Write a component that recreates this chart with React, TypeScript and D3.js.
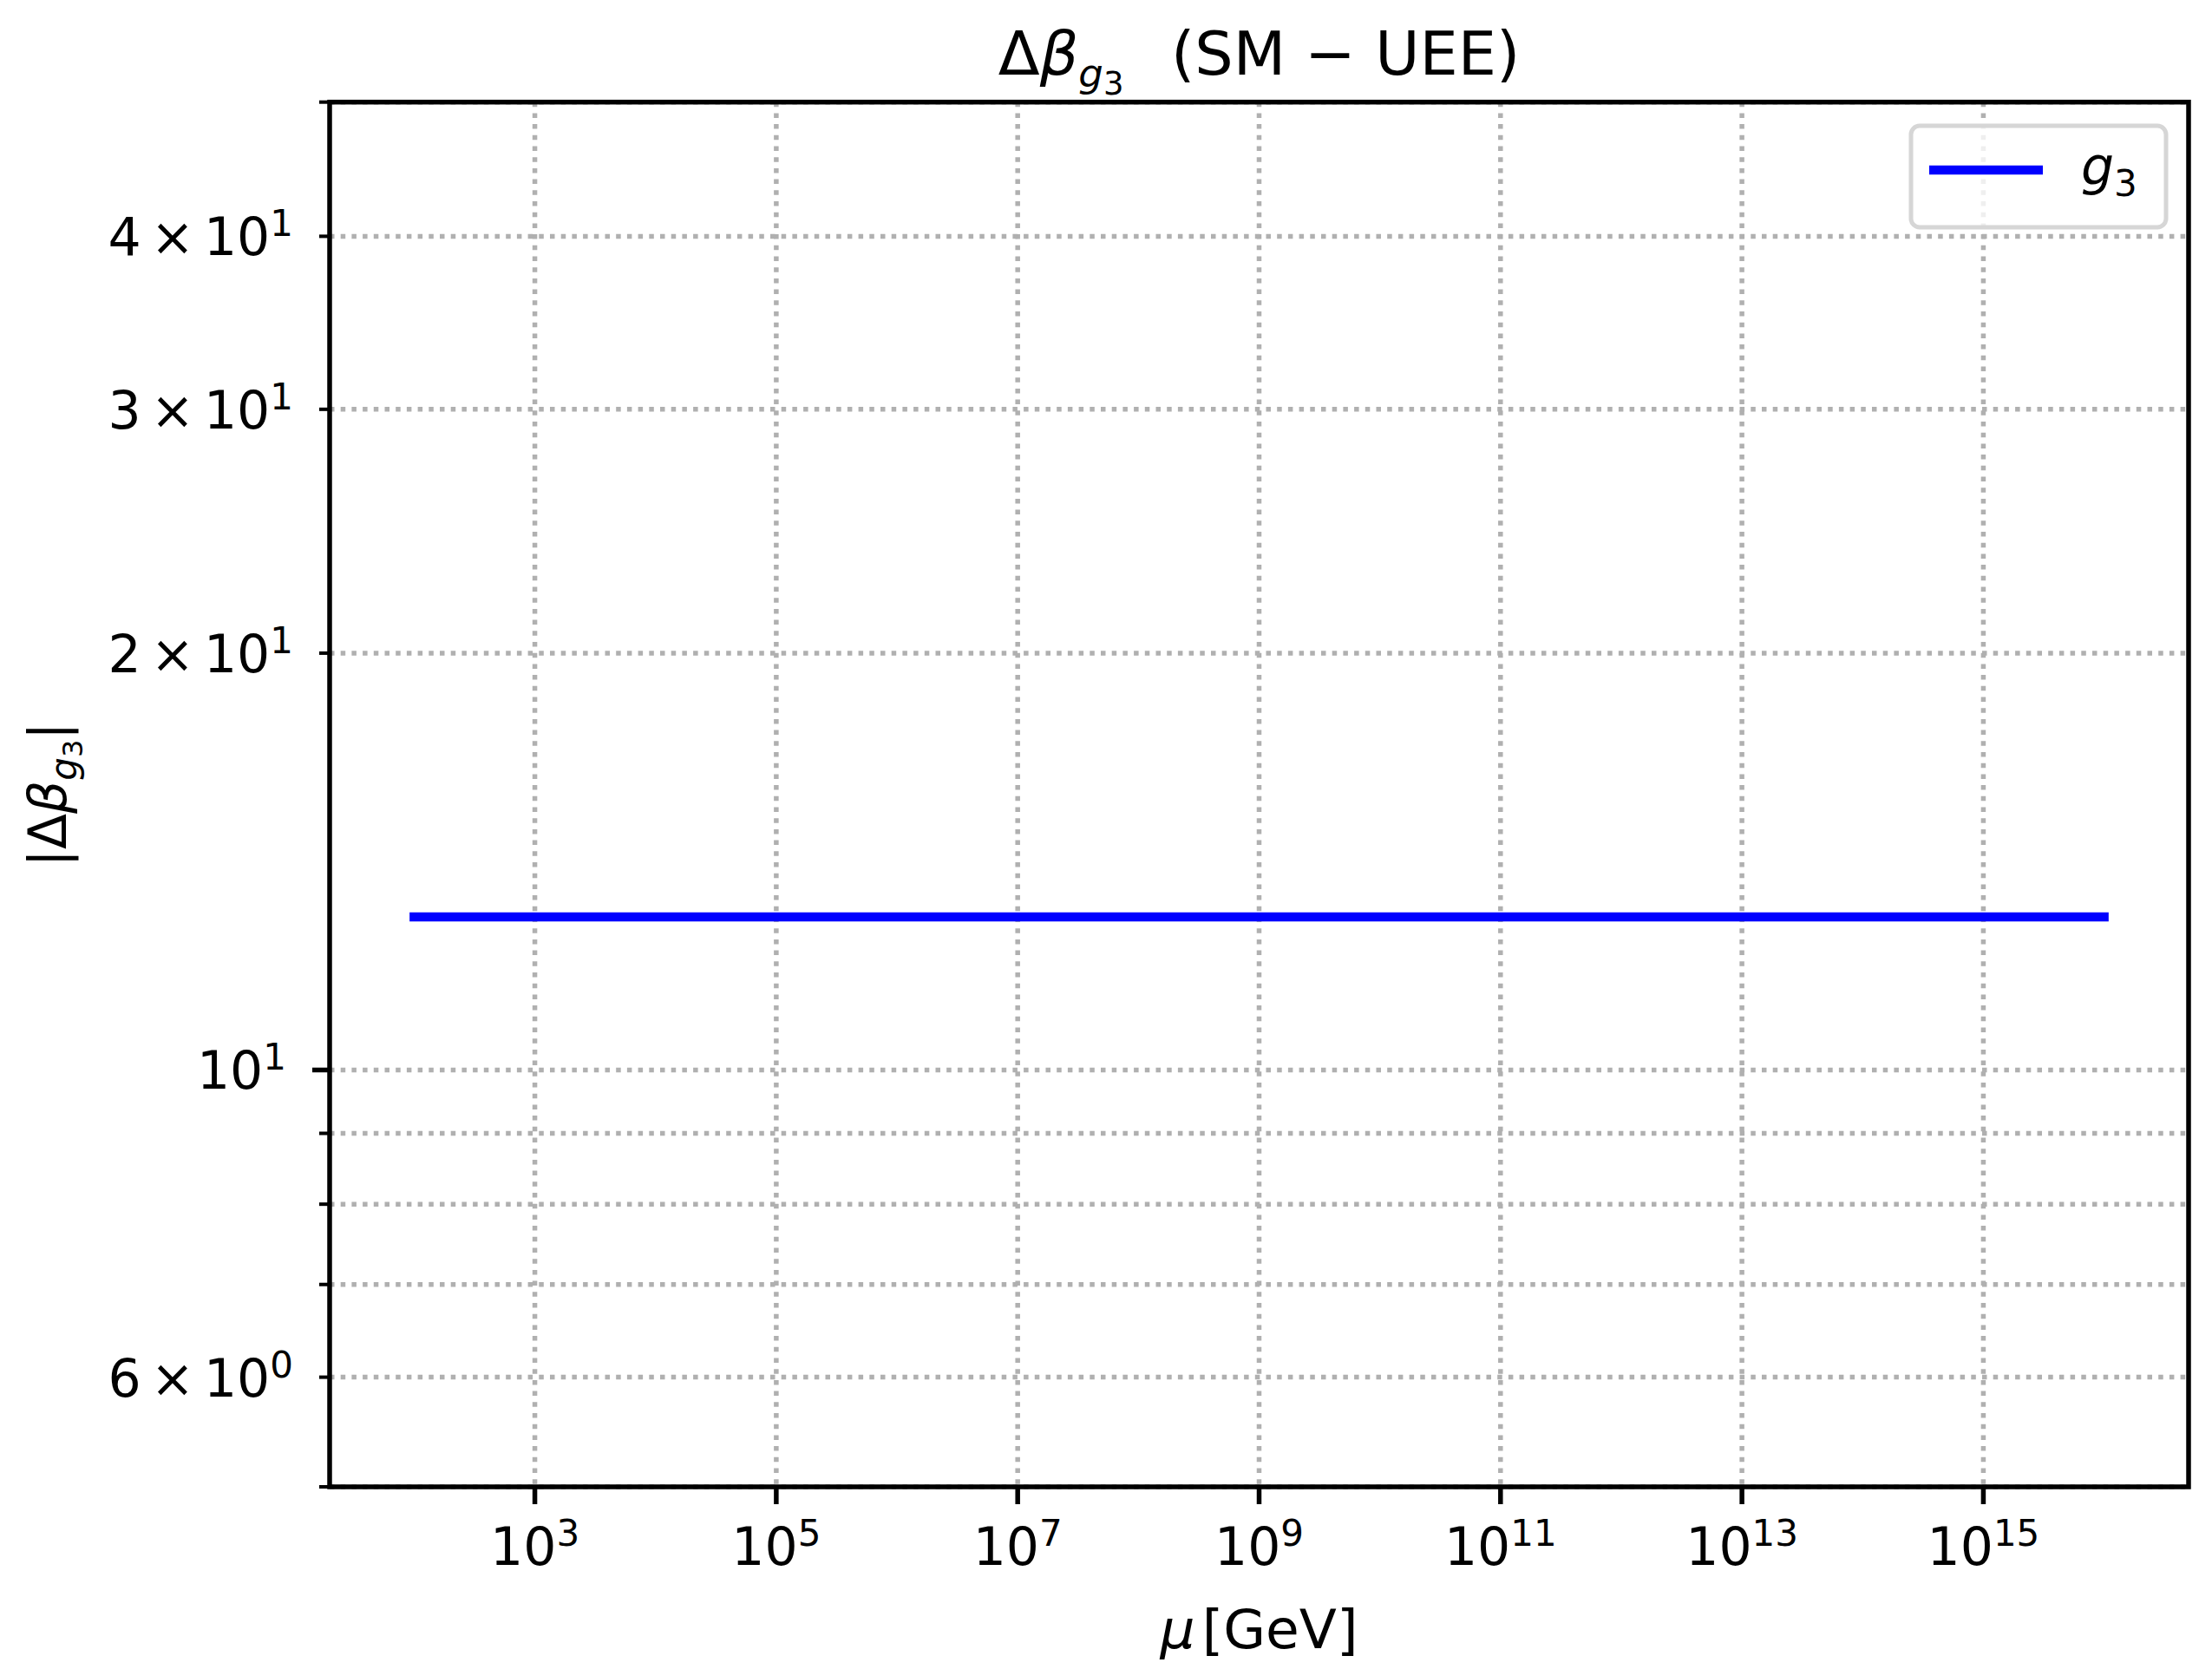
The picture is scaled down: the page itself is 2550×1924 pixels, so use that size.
import React from "react";
import * as d3 from "d3";

// ---- data ----
const MU_VALUES = [1e2, 1e4, 1e6, 1e8, 1e10, 1e12, 1e14, 1e16];
const DBETA_G3 = [12.9, 12.9, 12.9, 12.9, 12.9, 12.9, 12.9, 12.9];

const X_MAJOR_TICKS = [1e3, 1e5, 1e7, 1e9, 1e11, 1e13, 1e15];
const X_TICK_EXPONENTS = ["3", "5", "7", "9", "11", "13", "15"];

const Y_DOMAIN = [5, 50];
const Y_MAJOR_TICKS = [10];
const Y_MINOR_TICKS = [5, 6, 7, 8, 9, 20, 30, 40, 50];
const Y_LABEL_VALUES = [6, 10, 20, 30, 40];
const Y_LABEL_MANTISSAS = ["6", "", "2", "3", "4"];
const Y_LABEL_EXPONENTS = ["0", "1", "1", "1", "1"];

const SERIES_NAME_MAIN = "g";
const SERIES_NAME_SUB = "3";

const FONT = "DejaVu Sans";

export default function App() {
  const W = 2550;
  const H = 1924;
  const L = 380;
  const R = 2523;
  const T = 117.7;
  const B = 1714;

  const lo = Math.log10(d3.min(MU_VALUES) as number);
  const hi = Math.log10(d3.max(MU_VALUES) as number);
  const pad = 0.05 * (hi - lo);
  const x = d3.scaleLog().domain([Math.pow(10, lo - pad), Math.pow(10, hi + pad)]).range([L, R]);
  const y = d3.scaleLog().domain(Y_DOMAIN).range([B, T]);

  const linePath = d3
    .line<number>()
    .x((_, i) => x(MU_VALUES[i]))
    .y((d) => y(d))(DBETA_G3) as string;

  const gridColor = "#b0b0b0";
  const gridW = 5.5;
  const gridDash = "5.5 7.2";
  const majorLen = 20;
  const minorLen = 12;
  const tickFont = 60;
  const supFont = 42;
  const supRaise = 22;

  const yGrid = [...Y_MAJOR_TICKS, ...Y_MINOR_TICKS];

  return (
    <svg
      width={W}
      height={H}
      viewBox={`0 0 ${W} ${H}`}
      style={{ position: "absolute", left: 0, top: 0, background: "#fff" }}
      fontFamily={FONT}
    >
      <rect x={0} y={0} width={W} height={H} fill="#fff" />

      {/* grid */}
      {X_MAJOR_TICKS.map((t, i) => (
        <line
          key={"xg" + i}
          x1={x(t)}
          x2={x(t)}
          y1={T}
          y2={B}
          stroke={gridColor}
          strokeWidth={gridW}
          strokeDasharray={gridDash}
        />
      ))}
      {yGrid.map((t, i) => (
        <line
          key={"yg" + i}
          x1={L}
          x2={R}
          y1={y(t)}
          y2={y(t)}
          stroke={gridColor}
          strokeWidth={gridW}
          strokeDasharray={gridDash}
        />
      ))}

      {/* data line */}
      <path d={linePath} fill="none" stroke="#0000ff" strokeWidth={10.5} strokeLinecap="square" />

      {/* spines */}
      <rect x={L} y={T} width={R - L} height={B - T} fill="none" stroke="#000" strokeWidth={5.5} />

      {/* x ticks */}
      {X_MAJOR_TICKS.map((t, i) => (
        <g key={"xt" + i}>
          <line x1={x(t)} x2={x(t)} y1={B} y2={B + majorLen} stroke="#000" strokeWidth={5.5} />
          <text x={x(t)} y={1804} fontSize={tickFont} textAnchor="middle" fill="#000">
            10
            <tspan dy={-supRaise} fontSize={supFont}>
              {X_TICK_EXPONENTS[i]}
            </tspan>
          </text>
        </g>
      ))}

      {/* y ticks */}
      {Y_MAJOR_TICKS.map((t, i) => (
        <line key={"ymj" + i} x1={L - majorLen} x2={L} y1={y(t)} y2={y(t)} stroke="#000" strokeWidth={5.5} />
      ))}
      {Y_MINOR_TICKS.map((t, i) => (
        <line key={"ymn" + i} x1={L - minorLen} x2={L} y1={y(t)} y2={y(t)} stroke="#000" strokeWidth={4} />
      ))}
      {Y_LABEL_VALUES.map((v, i) => {
        const isMajor = Y_MAJOR_TICKS.includes(v);
        const xr = L - (isMajor ? majorLen : minorLen) - 30;
        const m = Y_LABEL_MANTISSAS[i];
        return (
          <text key={"yl" + i} x={xr} y={y(v) + 22} fontSize={tickFont} textAnchor="end" fill="#000">
            {m ? (
              <>
                {m}
                <tspan dx={11}>×</tspan>
                <tspan dx={11}>10</tspan>
              </>
            ) : (
              "10"
            )}
            <tspan dy={-supRaise} fontSize={supFont}>
              {Y_LABEL_EXPONENTS[i]}
            </tspan>
          </text>
        );
      })}

      {/* axis labels */}
      <text x={(L + R) / 2} y={1900} fontSize={63} textAnchor="middle" fill="#000">
        <tspan fontStyle="italic">μ</tspan>
        <tspan dx={8}>[GeV]</tspan>
      </text>
      <text transform={`translate(76, ${(T + B) / 2}) rotate(-90)`} fontSize={60} textAnchor="middle" fill="#000">
        |Δ<tspan fontStyle="italic">β</tspan>
        <tspan fontStyle="italic" fontSize={42} dy={12}>
          g
        </tspan>
        <tspan fontSize={32} dy={7}>
          3
        </tspan>
        <tspan fontSize={60} dy={-19}>
          |
        </tspan>
      </text>

      {/* title */}
      <text x={(L + R) / 2} y={86} fontSize={70} textAnchor="middle" fill="#000">
        Δ<tspan fontStyle="italic">β</tspan>
        <tspan fontStyle="italic" fontSize={45} dy={14}>
          g
        </tspan>
        <tspan fontSize={37} dy={9}>
          3
        </tspan>
        <tspan fontSize={70} dy={-23} dx={10}>
          {"\u00a0\u00a0(SM − UEE)"}
        </tspan>
      </text>

      {/* legend */}
      <rect x={2203} y={145} width={294} height={117} rx={10} fill="#fff" fillOpacity={0.8} stroke="#d6d6d6" strokeWidth={5} />
      <line x1={2224} x2={2355} y1={196} y2={196} stroke="#0000ff" strokeWidth={10.5} />
      <text x={2399} y={213} fontSize={60} fill="#000">
        <tspan fontStyle="italic">{SERIES_NAME_MAIN}</tspan>
        <tspan fontSize={42} dy={13}>
          {SERIES_NAME_SUB}
        </tspan>
      </text>
    </svg>
  );
}
